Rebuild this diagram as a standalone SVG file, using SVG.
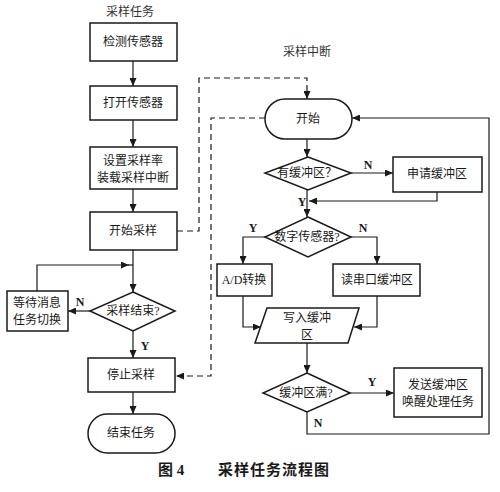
<svg xmlns="http://www.w3.org/2000/svg" width="500" height="492" viewBox="0 0 500 492">
<style>
text{font-family:"Liberation Serif","Noto Sans CJK SC",serif;font-size:12px;fill:#1a1a1a;text-anchor:middle;dominant-baseline:central}
.lbl{font-weight:bold;font-size:12px}
.ttl{font-size:12px;fill:#333}
.cap{font-size:15px;font-weight:bold;text-anchor:start}
.shape{fill:#fff;stroke:#1a1a1a;stroke-width:1.5}
.ln{fill:none;stroke:#1a1a1a;stroke-width:1.2}
.dash{fill:none;stroke:#1a1a1a;stroke-width:1.2;stroke-dasharray:6,4}
</style>
<defs>
<marker id="ar" markerWidth="8" markerHeight="7" refX="8" refY="3.5" orient="auto" markerUnits="userSpaceOnUse">
<path d="M0,0 L8,3.5 L0,7 z" fill="#1a1a1a"/>
</marker>
</defs>
<rect width="500" height="492" fill="#fff"/>
<text class="ttl" x="130" y="12">采样任务</text>
<text class="ttl" x="307" y="52">采样中断</text>

<g id="connectors">
<path class="ln" d="M133,61 V86" marker-end="url(#ar)"/>
<path class="ln" d="M133,120 V147" marker-end="url(#ar)"/>
<path class="ln" d="M133,189 V212" marker-end="url(#ar)"/>
<path class="ln" d="M133,250 V292" marker-end="url(#ar)"/>
<path class="ln" d="M37,291 V265 H129" marker-end="url(#ar)"/>
<path class="ln" d="M128,265 H133"/>
<path class="ln" d="M90,311 H68" marker-end="url(#ar)"/>
<path class="ln" d="M133,331 V358" marker-end="url(#ar)"/>
<path class="ln" d="M133,392 V414" marker-end="url(#ar)"/>
<path class="dash" d="M177,231 H199 V78 H307 V99" marker-end="url(#ar)"/>
<path class="dash" d="M265,118 H211 V376 H176" marker-end="url(#ar)"/>
<path class="ln" d="M307,139 V157" marker-end="url(#ar)"/>
<path class="ln" d="M351,173 H393" marker-end="url(#ar)"/>
<path class="ln" d="M437,192 V201 H309" marker-end="url(#ar)"/>
<path class="ln" d="M307,190 V217" marker-end="url(#ar)"/>
<path class="ln" d="M265,237 H243 V264" marker-end="url(#ar)"/>
<path class="ln" d="M351,237 H377 V264" marker-end="url(#ar)"/>
<path class="ln" d="M243,296 V327 H261" marker-end="url(#ar)"/>
<path class="ln" d="M377,296 V327 H354" marker-end="url(#ar)"/>
<path class="ln" d="M307,343 V373" marker-end="url(#ar)"/>
<path class="ln" d="M350,393 H394" marker-end="url(#ar)"/>
<path class="ln" d="M307,412 V434 H489 V118 H352" marker-end="url(#ar)"/>
<text class="lbl" x="80" y="302">N</text>
<text class="lbl" x="145" y="346">Y</text>
<text class="lbl" x="368" y="165">N</text>
<text class="lbl" x="302" y="202">Y</text>
<text class="lbl" x="253" y="228">Y</text>
<text class="lbl" x="363" y="228">N</text>
<text class="lbl" x="372" y="382">Y</text>
<text class="lbl" x="318" y="423">N</text>
</g>

<g id="n-detect"><rect class="shape" x="90" y="23" width="87" height="38"/><text x="133" y="42">检测传感器</text></g>
<g id="n-open"><rect class="shape" x="90" y="86" width="87" height="34"/><text x="133" y="103">打开传感器</text></g>
<g id="n-set"><rect class="shape" x="90" y="147" width="87" height="42"/><text x="133" y="161">设置采样率</text><text x="133" y="178">装载采样中断</text></g>
<g id="n-startsample"><rect class="shape" x="90" y="212" width="87" height="38"/><text x="133" y="231">开始采样</text></g>
<g id="n-sampledone"><polygon class="shape" points="133,292 175,311 133,331 90,311"/><text x="133" y="311">采样结束?</text></g>
<g id="n-wait"><rect class="shape" x="7" y="291" width="61" height="40"/><text x="37" y="303">等待消息</text><text x="37" y="320">任务切换</text></g>
<g id="n-stop"><rect class="shape" x="88" y="358" width="87" height="34"/><text x="131" y="375">停止采样</text></g>
<g id="n-end"><rect class="shape" x="88" y="414" width="87" height="39" rx="19.5"/><text x="131" y="433">结束任务</text></g>

<g id="n-start"><rect class="shape" x="265" y="99" width="87" height="40" rx="20"/><text x="308" y="119">开始</text></g>
<g id="n-hasbuf"><polygon class="shape" points="308,157 351,173 308,190 265,173"/><text x="307" y="173">有缓冲区？</text></g>
<g id="n-reqbuf"><rect class="shape" x="393" y="157" width="89" height="35"/><text x="437" y="174">申请缓冲区</text></g>
<g id="n-digital"><polygon class="shape" points="308,217 351,237 308,257 265,237"/><text x="307" y="237">数字传感器?</text></g>
<g id="n-ad"><rect class="shape" x="217" y="264" width="55" height="32"/><text x="244" y="280">A/D转换</text></g>
<g id="n-serial"><rect class="shape" x="333" y="264" width="87" height="32"/><text x="377" y="280">读串口缓冲区</text></g>
<g id="n-write"><polygon class="shape" points="267,308 359,308 348,343 255,343"/><text x="307" y="318">写入缓冲</text><text x="307" y="335">区</text></g>
<g id="n-full"><polygon class="shape" points="307,373 350,393 307,412 263,393"/><text x="306" y="393">缓冲区满?</text></g>
<g id="n-send"><rect class="shape" x="394" y="368" width="88" height="49"/><text x="438" y="385">发送缓冲区</text><text x="438" y="402">唤醒处理任务</text></g>

<text class="cap" x="158" y="470">图 4</text>
<text class="cap" x="218" y="470" style="letter-spacing:1px">采样任务流程图</text>
</svg>
